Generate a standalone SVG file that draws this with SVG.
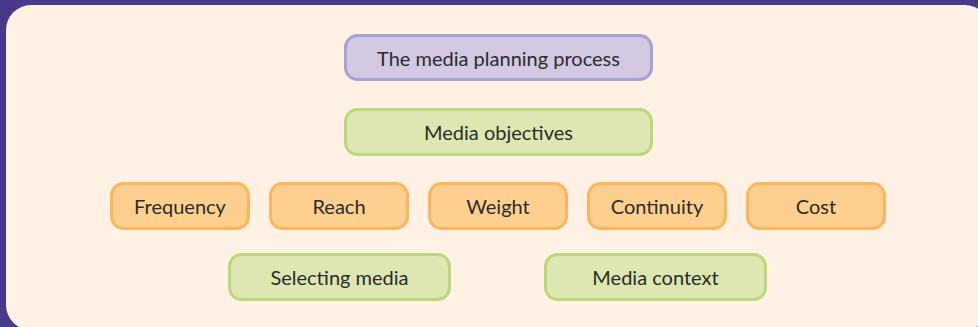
<svg xmlns="http://www.w3.org/2000/svg" width="978" height="327" viewBox="0 0 978 327">
<style>
.t{font-family:Lato,"Open Sans","Liberation Sans",sans-serif;font-size:20px;fill:#2b2b2b;text-anchor:middle;dominant-baseline:central}
.p{fill:#d4c9e3;stroke:#a8a1d5;stroke-width:3}
.g{fill:#dde7b1;stroke:#bcd67b;stroke-width:3}
.o{fill:#fdd08f;stroke:#fcb65d;stroke-width:3}
</style>
<rect x="0" y="0" width="978" height="327" fill="#483a8a"/>
<rect x="6" y="5" width="984" height="325" rx="25" fill="#fff1e3"/>
<g id="connectors"></g>
<g id="n-process"><rect class="p" x="345.5" y="35.5" width="306" height="44" rx="12"/><text class="t" x="498.5" y="57.5">The media planning process</text></g>
<g id="n-objectives"><rect class="g" x="345.5" y="109.5" width="306" height="45" rx="12"/><text class="t" x="498.5" y="132">Media objectives</text></g>
<g id="n-frequency"><rect class="o" x="111.5" y="183.5" width="137" height="45" rx="12"/><text class="t" x="180" y="206">Frequency</text></g>
<g id="n-reach"><rect class="o" x="270.5" y="183.5" width="137" height="45" rx="12"/><text class="t" x="339" y="206">Reach</text></g>
<g id="n-weight"><rect class="o" x="429.5" y="183.5" width="137" height="45" rx="12"/><text class="t" x="498" y="206">Weight</text></g>
<g id="n-continuity"><rect class="o" x="588.5" y="183.5" width="137" height="45" rx="12"/><text class="t" x="657" y="206">Continuity</text></g>
<g id="n-cost"><rect class="o" x="747.5" y="183.5" width="137" height="45" rx="12"/><text class="t" x="816" y="206">Cost</text></g>
<g id="n-selecting"><rect class="g" x="229.5" y="254.5" width="220" height="45" rx="12"/><text class="t" x="339.5" y="277">Selecting media</text></g>
<g id="n-context"><rect class="g" x="545.5" y="254.5" width="220" height="45" rx="12"/><text class="t" x="655.5" y="277">Media context</text></g>
</svg>
